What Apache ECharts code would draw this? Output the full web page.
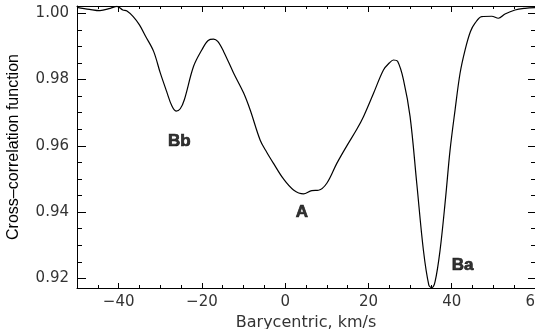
<!DOCTYPE html>
<html>
<head>
<meta charset="utf-8">
<script src="https://cdn.jsdelivr.net/npm/echarts@6/dist/echarts.min.js"></script>
<style>
  html, body { margin: 0; padding: 0; background: #fff; }
  #main { width: 535px; height: 329px; }
</style>
</head>
<body>
<div id="main"></div>
<script>
// velocity (km/s) and cross-correlation values
var velocity = [-50, -47, -44.5, -42, -40.4, -39, -38, -36.5, -35, -33.5, -31.6, -30, -28.5, -27.2, -26.2,
  -25.2, -24.2, -22, -20, -18.5, -17.2, -16.2, -14.8, -12.4, -10, -8.4, -6, -4.4, -2.8, -0.4,
  2, 4.4, 6.4, 8, 10, 12.4, 14.8, 17.2, 18.8, 21.2, 23.6, 25, 26, 27, 28.4, 30, 31.6, 33.2,
  34.5, 35.2, 36, 37.2, 38.5, 39.6, 40.8, 42, 43.2, 44.5, 45.6, 47.2, 49.6, 51.2, 52.8, 55.2, 57.6, 60];
var ccf = [1.0018, 1.0012, 1.0008, 1.0015, 1.0021, 1.0010, 1.0007, 0.9990, 0.9965, 0.9930, 0.9885, 0.9820, 0.9765, 0.9720, 0.9705,
  0.9712, 0.9740, 0.9840, 0.9890, 0.9918, 0.9922, 0.9915, 0.9885, 0.9820, 0.9760, 0.9708, 0.9617, 0.9580, 0.9547, 0.9500,
  0.9467, 0.9455, 0.9465, 0.9466, 0.9487, 0.9547, 0.9600, 0.9650, 0.9688, 0.9758, 0.9829, 0.9850, 0.9859, 0.9855, 0.9800, 0.9688, 0.9487, 0.9285,
  0.9180, 0.9172, 0.9190, 0.9285, 0.9440, 0.9587, 0.9708, 0.9819, 0.9889, 0.9945, 0.9970, 0.9990, 0.9991, 0.9985, 0.9998, 1.0010, 1.0015, 1.0017];

// component labels
var compNames = ['Bb', 'A', 'Ba'];
var compX = [-25.4, 4.0, 42.6];
var compY = [0.9615, 0.9400, 0.9240];

var xMin = -50, xMax = 60;
var yMin = 0.9171, yMax = 1.0022;

var myChart = echarts.init(document.getElementById('main'));

var tickFont = { fontFamily: 'DejaVu Sans', fontSize: 15, color: '#333' };

function xAx(pos, len, split, labels, line) {
  return {
    type: 'value', position: pos, min: xMin, max: xMax, splitNumber: split,
    axisLine: { show: line, onZero: false, lineStyle: { color: '#000', width: 1 } },
    axisTick: { show: true, inside: true, length: len, lineStyle: { color: '#000' } },
    axisLabel: labels ? {
      show: true, margin: 7, showMinLabel: false,
      fontFamily: tickFont.fontFamily, fontSize: tickFont.fontSize, color: tickFont.color,
      formatter: function (v) { return String(v).replace('-', '\u2212'); }
    } : { show: false },
    splitLine: { show: false }
  };
}
function yAx(pos, len, split, labels, line) {
  return {
    type: 'value', position: pos, min: yMin, max: yMax, splitNumber: split,
    axisLine: { show: line, onZero: false, lineStyle: { color: '#000', width: 1 } },
    axisTick: { show: true, inside: true, length: len, lineStyle: { color: '#000' } },
    axisLabel: labels ? {
      show: true, margin: 8, showMinLabel: false, showMaxLabel: false,
      fontFamily: tickFont.fontFamily, fontSize: tickFont.fontSize, color: tickFont.color,
      formatter: function (v) { return v.toFixed(2); }
    } : { show: false },
    splitLine: { show: false }
  };
}

var xMain = xAx('bottom', 5, 5, true, true);
xMain.name = 'Barycentric, km/s';
xMain.nameLocation = 'middle';
xMain.nameGap = 21;
xMain.nameTextStyle = { fontFamily: 'DejaVu Sans', fontSize: 16, color: '#333' };

var yMain = yAx('left', 9, 4, true, true);
yMain.name = 'Cross\u2013correlation function';
yMain.nameLocation = 'middle';
yMain.nameGap = 55;
yMain.nameTextStyle = { fontFamily: 'Liberation Sans', fontSize: 16, color: '#000' };

myChart.setOption({
  animation: false,
  grid: { left: 77, right: 0, top: 6, bottom: 41, outerBoundsMode: 'none', containLabel: false },
  xAxis: [
    xMain,
    xAx('bottom', 3, 22, false, false),
    xAx('top', 6, 5, false, true),
    xAx('top', 3, 22, false, false)
  ],
  yAxis: [
    yMain,
    yAx('left', 5, 17, false, false),
    yAx('right', 7, 4, false, false),
    yAx('right', 4, 17, false, false)
  ],
  series: [
    {
      type: 'line',
      xAxisIndex: 0, yAxisIndex: 0,
      data: velocity.map(function (v, i) { return [v, ccf[i]]; }),
      showSymbol: false,
      smooth: 0.35,
      lineStyle: { color: '#000', width: 1.2 }
    },
    {
      type: 'scatter',
      xAxisIndex: 0, yAxisIndex: 0,
      symbolSize: 0,
      itemStyle: { color: '#000' },
      data: compNames.map(function (n, i) { return { name: n, value: [compX[i], compY[i]] }; }),
      label: {
        show: true, position: 'inside',
        formatter: '{b}',
        fontFamily: 'Liberation Sans', fontWeight: 'bold', fontSize: 17, color: '#000',
        textBorderColor: '#000', textBorderWidth: 0.7
      }
    }
  ]
});
</script>
</body>
</html>
